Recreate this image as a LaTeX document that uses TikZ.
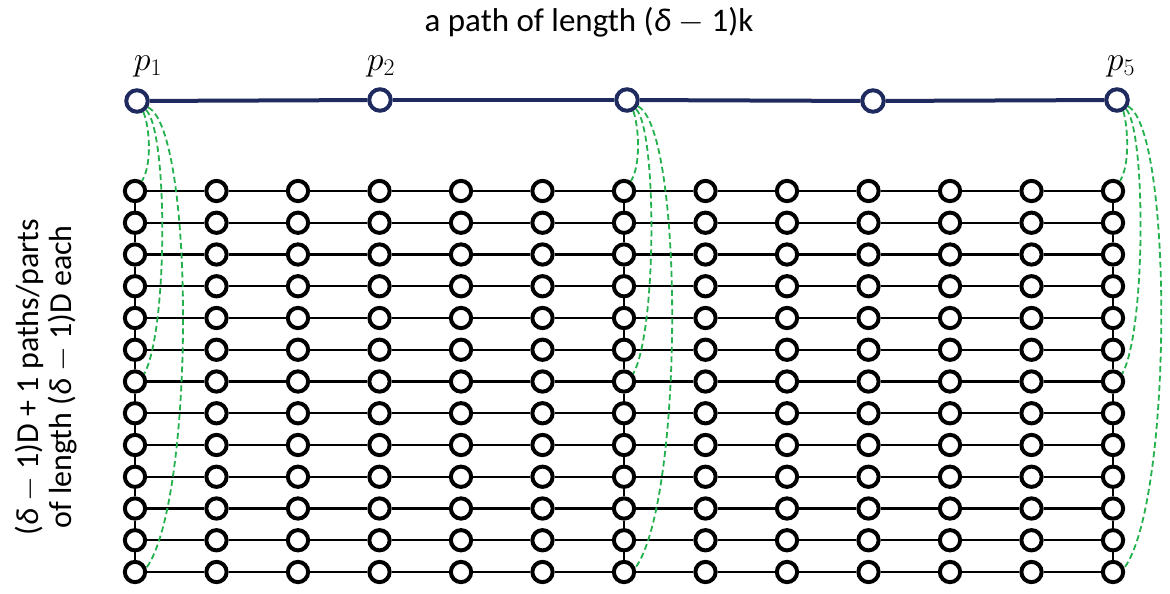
\RequirePackage{fix-cm}
\documentclass[tikz,border=0pt]{standalone}
\usepackage{fontspec}
\setmainfont{Carlito}
\definecolor{navy}{RGB}{31,42,94}
\definecolor{lgreen}{RGB}{34,177,76}
\begin{document}
\begin{tikzpicture}[x=1pt,y=-1pt,
  gnode/.style={circle,draw=black,line width=4pt,minimum size=20.3pt,inner sep=0pt},
  tnode/.style={circle,draw=navy,line width=4pt,minimum size=21.5pt,inner sep=0pt,fill=white},
  gedge/.style={line width=2.2pt,draw=black},
  tedge/.style={line width=4pt,draw=navy},
  link/.style={draw=lgreen,line width=1.8pt,dash pattern=on 6pt off 3.5pt},
  lbl/.style={font=\fontsize{34}{38}\selectfont,inner sep=0pt},
  ttl/.style={font=\fontsize{33}{40}\selectfont,inner sep=0pt},
  txt/.style={font=\fontsize{32}{33}\selectfont,inner sep=0pt}]
\useasboundingbox (0,0) rectangle (1170,594);
% grid nodes
\foreach \r in {1,...,13}{
  \foreach \c in {1,...,13}{
    \node[gnode] (g-\r-\c) at ({135+(\c-1)*81.5},{191+(\r-1)*31.75}) {};
  }
}
% horizontal edges
\foreach \r in {1,...,13}{
  \foreach \c [evaluate=\c as \cn using int(\c+1)] in {1,...,12}{
    \draw[gedge] (g-\r-\c) -- (g-\r-\cn);
  }
}
% vertical edges
\foreach \c in {1,7,13}{
  \foreach \r [evaluate=\r as \rn using int(\r+1)] in {1,...,12}{
    \draw[gedge] (g-\r-\c) -- (g-\rn-\c);
  }
}
% top path
\node[tnode] (p1) at (137,101) {};
\node[tnode] (p2) at (380,100) {};
\node[tnode] (p3) at (627,100) {};
\node[tnode] (p4) at (873,101) {};
\node[tnode] (p5) at (1117,100) {};
\draw[tedge] (p1) -- (p2);
\draw[tedge] (p2) -- (p3);
\draw[tedge] (p3) -- (p4);
\draw[tedge] (p4) -- (p5);
% labels
\node[lbl] (l1) at (148,66) {$p_1$};
\node[lbl] (l2) at (381,66) {$p_2$};
\node[lbl] (l5) at (1121,66) {$p_5$};
% green dashed links
\foreach \t/\c/\x in {p1/1/135,p3/7/624,p5/13/1113}{
  \draw[link] (\t.-60) .. controls ({\x+15},128) and ({\x+17},165) .. (g-1-\c.55);
  \draw[link] (\t.-45) .. controls ({\x+33},130) and ({\x+33},330) .. (g-7-\c.40);
  \draw[link] (\t.-30) .. controls ({\x+60},130) and ({\x+60},500) .. (g-13-\c.20);
}
% texts
\node[ttl] (title) at (589,22) {a path of length (\textit{δ} $-$ 1)k};
\node[txt,rotate=90,align=center] (side) at (46,377) {(\textit{δ} $-$ 1)D + 1 paths/parts\\of length (\textit{δ} $-$ 1)D each};
\end{tikzpicture}
\end{document}
